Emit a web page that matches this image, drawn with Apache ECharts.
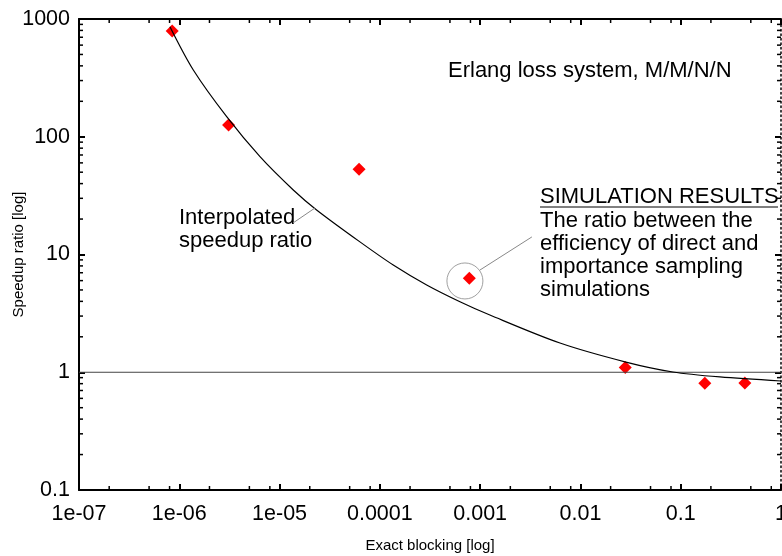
<!DOCTYPE html>
<html>
<head>
<meta charset="utf-8">
<script src="https://cdn.jsdelivr.net/npm/echarts@6/dist/echarts.min.js"></script>
<style>
html,body{margin:0;padding:0;background:#fff;}
#chart{width:782px;height:556px;}
</style>
</head>
<body>
<div id="chart"></div>
<script>
// ---- data ----
const simBlocking = [8.5e-7, 3.1e-6, 6.2e-5, 7.8e-4, 0.028, 0.174, 0.436];
const simSpeedup  = [790, 126, 53, 6.3, 1.10, 0.805, 0.81];
const curveBlocking = [8.07e-7, 1.38e-6, 2.97e-6, 6.38e-6, 1.37e-5, 2.34e-5, 6.33e-5, 1.36e-4, 2.93e-4, 6.29e-4, 1.25e-3, 6.25e-3, 0.0284, 0.0836, 0.246, 1];
const curveSpeedup  = [860, 369, 148, 67.7, 35.3, 23.9, 12.8, 8.14, 5.51, 3.97, 3.06, 1.77, 1.22, 1.005, 0.912, 0.843];
const refLineX = [1e-7, 1];
const refLineY = [1, 1];
const circleCenter = [7.05e-4, 5.96];
const leaderInterp = [[1.36e-5, 18.5], [2.25e-5, 24.8]];
const leaderSim = [[9.95e-4, 7.38], [3.28e-3, 14.1]];
const xTickLabels = ['1e-07', '1e-06', '1e-05', '0.0001', '0.001', '0.01', '0.1', '1'];
const yTickLabels = ['0.1', '1', '10', '100', '1000'];
const xDecades = [-7, -6, -5, -4, -3, -2, -1];
const yDecades = [-1, 0, 1, 2];
const xMinorMantissas = [2, 5, 8];
const yMinorMantissas = [2, 3, 4, 5, 6, 7, 8, 9];
const xMin = 1e-7, xMax = 1, yMin = 0.1, yMax = 1000;

// minor tick items [x, y, side]; side 0 bottom, 1 top, 2 left, 3 right
const minorTicks = [];
xDecades.forEach(d => xMinorMantissas.forEach(m => {
  const v = m * Math.pow(10, d);
  minorTicks.push([v, yMin, 0]);
  minorTicks.push([v, yMax, 1]);
}));
yDecades.forEach(d => yMinorMantissas.forEach(m => {
  const v = m * Math.pow(10, d);
  minorTicks.push([xMin, v, 2]);
  minorTicks.push([xMax, v, 3]);
}));

const FONT = '"Liberation Sans", Arial, Helvetica, sans-serif';
const TXT = '22px ' + FONT;
const chart = echarts.init(document.getElementById('chart'));

function xFmt(v) { const k = Math.round(Math.log10(v)) + 7; return xTickLabels[k] !== undefined ? xTickLabels[k] : ''; }
function yFmt(v) { const k = Math.round(Math.log10(v)) + 1; return yTickLabels[k] !== undefined ? yTickLabels[k] : ''; }

function tick() { return { show: true, inside: true, length: 6, lineStyle: { color: '#000', width: 2 } }; }

chart.setOption({
  animation: false,
  grid: { left: 79, right: 1, top: 19, bottom: 66, outerBoundsMode: 'none' },
  xAxis: [
    {
      type: 'log', position: 'bottom', min: xMin, max: xMax,
      name: 'Exact blocking [log]', nameLocation: 'middle', nameGap: 48, nameMoveOverlap: false,
      nameTextStyle: { fontFamily: FONT, fontSize: 15, color: '#000' },
      splitLine: { show: false }, axisTick: tick(),
      axisLine: { show: true, lineStyle: { color: '#000', width: 2 } },
      axisLabel: { show: true, formatter: xFmt, fontFamily: FONT, fontSize: 21.5, color: '#000', margin: 13, showMinLabel: true, showMaxLabel: true, hideOverlap: false }
    },
    {
      type: 'log', position: 'top', min: xMin, max: xMax,
      splitLine: { show: false }, axisTick: tick(),
      axisLine: { show: true, lineStyle: { color: '#000', width: 2 } },
      axisLabel: { show: false }
    }
  ],
  yAxis: [
    {
      type: 'log', position: 'left', min: yMin, max: yMax,
      name: 'Speedup ratio [log]', nameLocation: 'middle', nameGap: 53, nameMoveOverlap: false,
      nameTextStyle: { fontFamily: FONT, fontSize: 15, color: '#000' },
      splitLine: { show: false }, axisTick: tick(),
      axisLine: { show: true, lineStyle: { color: '#000', width: 2 } },
      axisLabel: { show: true, formatter: yFmt, fontFamily: FONT, fontSize: 21.5, color: '#000', margin: 9, showMinLabel: true, showMaxLabel: true }
    },
    {
      type: 'log', position: 'right', min: yMin, max: yMax,
      splitLine: { show: false }, axisTick: tick(),
      axisLine: { show: true, lineStyle: { color: '#000', width: 1.5, type: [1.5, 3] } },
      axisLabel: { show: false }
    }
  ],
  series: [
    {
      type: 'custom', name: 'minorTicks', xAxisIndex: 0, yAxisIndex: 0, silent: true,
      data: minorTicks, clip: false, z: 5,
      renderItem: function (params, api) {
        const p = api.coord([api.value(0), api.value(1)]);
        const s = api.value(2);
        const L = 4;
        let x2 = p[0], y2 = p[1];
        if (s === 0) y2 -= L; else if (s === 1) y2 += L; else if (s === 2) x2 += L; else x2 -= L;
        return { type: 'line', shape: { x1: p[0], y1: p[1], x2: x2, y2: y2 }, style: { stroke: '#000', lineWidth: 1.5 } };
      }
    },
    {
      type: 'line', name: 'ref', data: refLineX.map((x, i) => [x, refLineY[i]]),
      symbol: 'none', lineStyle: { color: '#444', width: 1 }, silent: true
    },
    {
      type: 'line', name: 'Interpolated', data: curveBlocking.map((x, i) => [x, curveSpeedup[i]]),
      symbol: 'none', smooth: 0.3, lineStyle: { color: '#000', width: 1.2 }, silent: true
    },
    {
      type: 'line', name: 'leader1', data: leaderInterp,
      symbol: 'none', lineStyle: { color: '#888', width: 1 }, silent: true
    },
    {
      type: 'line', name: 'leader2', data: leaderSim,
      symbol: 'none', lineStyle: { color: '#888', width: 1 }, silent: true
    },
    {
      type: 'scatter', name: 'circle', data: [circleCenter],
      symbol: 'circle', symbolSize: 36,
      itemStyle: { color: 'rgba(0,0,0,0)', borderColor: '#888', borderWidth: 1 }, silent: true
    },
    {
      type: 'scatter', name: 'Simulation', data: simBlocking.map((x, i) => [x, simSpeedup[i]]),
      symbol: 'diamond', symbolSize: 13,
      itemStyle: { color: '#ff0000', opacity: 1 }, silent: true
    }
  ],
  graphic: [
    { type: 'text', x: 448, y: 71, style: { text: 'Erlang loss system, M/M/N/N', font: TXT, fill: '#000', verticalAlign: 'middle' } },
    { type: 'text', x: 179, y: 218, style: { text: 'Interpolated', font: TXT, fill: '#000', verticalAlign: 'middle' } },
    { type: 'text', x: 179, y: 241, style: { text: 'speedup ratio', font: TXT, fill: '#000', verticalAlign: 'middle' } },
    { type: 'text', x: 540, y: 197, style: { text: 'SIMULATION RESULTS', font: TXT, fill: '#000', verticalAlign: 'middle' } },
    { type: 'line', shape: { x1: 540, y1: 207, x2: 778, y2: 207 }, style: { stroke: '#000', lineWidth: 1 } },
    { type: 'text', x: 540, y: 221, style: { text: 'The ratio between the', font: TXT, fill: '#000', verticalAlign: 'middle' } },
    { type: 'text', x: 540, y: 244, style: { text: 'efficiency of direct and', font: TXT, fill: '#000', verticalAlign: 'middle' } },
    { type: 'text', x: 540, y: 267, style: { text: 'importance sampling', font: TXT, fill: '#000', verticalAlign: 'middle' } },
    { type: 'text', x: 540, y: 290, style: { text: 'simulations', font: TXT, fill: '#000', verticalAlign: 'middle' } }
  ]
});
</script>
</body>
</html>
